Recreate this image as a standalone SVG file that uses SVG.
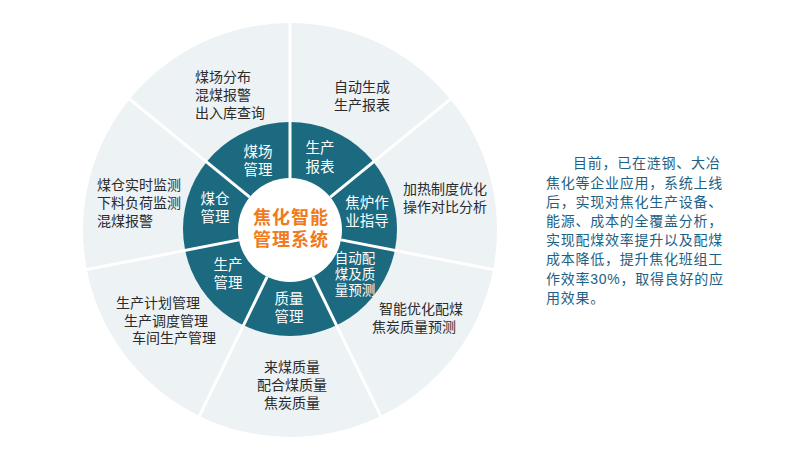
<svg xmlns="http://www.w3.org/2000/svg" width="800" height="459" viewBox="0 0 800 459">
<style>
text{font-family:"Liberation Sans","Noto Sans CJK SC",sans-serif;dominant-baseline:central}
.in{fill:#ffffff;font-size:14.5px;text-anchor:middle}
.in2{fill:#ffffff;font-size:13.5px;text-anchor:middle}
.out{fill:#2b2b2b;font-size:14px}
.mid{text-anchor:middle}
.ctr{fill:#f07a1c;font-size:18px;font-weight:bold;text-anchor:middle;letter-spacing:1px}
.desc{fill:#1d6184;font-size:14px;letter-spacing:0.75px}
.div{stroke:#ffffff;stroke-width:3;fill:none}
</style>
<rect width="800" height="459" fill="#ffffff"/>
<g id="background">
<circle cx="290" cy="230" r="207" fill="#edf2f5"/>
<circle cx="290" cy="229" r="107" fill="#1b6a80"/>
<circle cx="290" cy="230" r="52" fill="#ffffff"/>
</g>
<g id="connectors">
<line class="div" x1="290" y1="178" x2="290" y2="18"/>
<line class="div" x1="330.3" y1="197.1" x2="454.3" y2="96"/>
<line class="div" x1="341" y1="239.9" x2="498.1" y2="270.5"/>
<line class="div" x1="312.8" y1="276.7" x2="382.9" y2="420.6"/>
<line class="div" x1="267.2" y1="276.7" x2="197.1" y2="420.6"/>
<line class="div" x1="239" y1="239.9" x2="81.9" y2="270.5"/>
<line class="div" x1="249.7" y1="197.1" x2="125.7" y2="96"/>
</g>
<g id="center">
<text class="ctr" x="291" y="218">焦化智能<tspan x="291" dy="22">管理系统</tspan></text>
</g>
<g id="node-meichang">
<text class="in" x="258" y="152">煤场<tspan x="258" dy="18">管理</tspan></text>
<text class="out" x="195" y="77">煤场分布<tspan x="195" dy="18">混煤报警</tspan><tspan x="195" dy="18">出入库查询</tspan></text>
</g>
<g id="node-shengchanbaobiao">
<text class="in" x="320" y="148">生产<tspan x="320" dy="19">报表</tspan></text>
<text class="out" x="334" y="87">自动生成<tspan x="334" dy="18">生产报表</tspan></text>
</g>
<g id="node-jiaolu">
<text class="in" x="367" y="203">焦炉作<tspan x="367" dy="18">业指导</tspan></text>
<text class="out" x="403" y="189">加热制度优化<tspan x="403" dy="18">操作对比分析</tspan></text>
</g>
<g id="node-peimei">
<text class="in2" x="355" y="258">自动配<tspan x="355" dy="16">煤及质</tspan><tspan x="355" dy="16">量预测</tspan></text>
<text class="out" x="379" y="309">智能优化配煤<tspan x="372" dy="18">焦炭质量预测</tspan></text>
</g>
<g id="node-zhiliang">
<text class="in" x="289" y="299">质量<tspan x="289" dy="18">管理</tspan></text>
<text class="out mid" x="292" y="367">来煤质量<tspan x="292" dy="18">配合煤质量</tspan><tspan x="292" dy="18">焦炭质量</tspan></text>
</g>
<g id="node-shengchan">
<text class="in" x="228" y="265">生产<tspan x="228" dy="18">管理</tspan></text>
<text class="out" x="116" y="303">生产计划管理<tspan x="124" dy="18">生产调度管理</tspan><tspan x="132" dy="17">车间生产管理</tspan></text>
</g>
<g id="node-meicang">
<text class="in" x="215" y="199">煤仓<tspan x="215" dy="18">管理</tspan></text>
<text class="out" x="97" y="185">煤仓实时监测<tspan x="97" dy="18">下料负荷监测</tspan><tspan x="97" dy="18">混煤报警</tspan></text>
</g>
<g id="description">
<text class="desc" x="573" y="163">目前，已在涟钢、大冶<tspan x="546" dy="20">焦化等企业应用，系统上线</tspan><tspan x="546" dy="19">后，实现对焦化生产设备、</tspan><tspan x="546" dy="19">能源、成本的全覆盖分析，</tspan><tspan x="546" dy="19">实现配煤效率提升以及配煤</tspan><tspan x="546" dy="19">成本降低，提升焦化班组工</tspan><tspan x="546" dy="20">作效率30%，取得良好的应</tspan><tspan x="546" dy="19">用效果。</tspan></text>
</g>
</svg>
